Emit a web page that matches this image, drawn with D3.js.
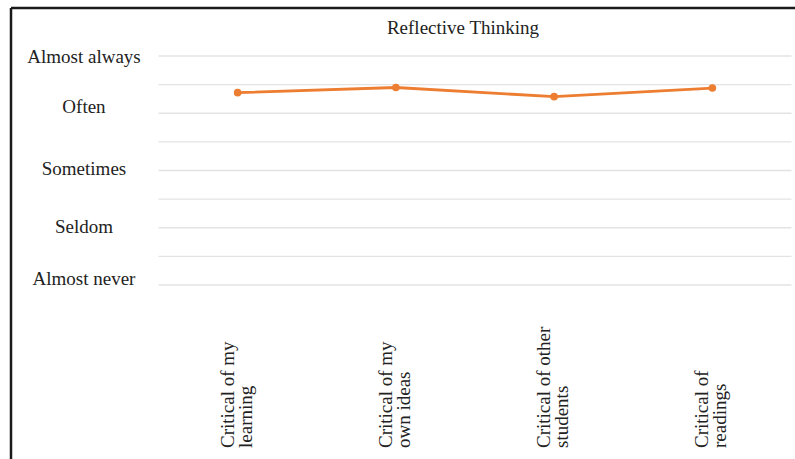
<!DOCTYPE html>
<html>
<head>
<meta charset="utf-8">
<script src="https://cdn.jsdelivr.net/npm/d3@7"></script>
<style>
  body { margin: 0; background: #fff; }
  svg { display: block; }
</style>
</head>
<body>
<script>
const width = 795
const height = 459
const line_color = "#ED7D31"
const grid_color = "#e3e3e3"
const font = "'Liberation Serif', 'Times New Roman', serif"

const categories = [
  ["Critical of my", "learning"],
  ["Critical of my", "own ideas"],
  ["Critical of other", "students"],
  ["Critical of", "readings"]
]
const values = [4.36, 4.45, 4.29, 4.44]
const grid_values = [1, 1.5, 2, 2.5, 3, 3.5, 4, 4.5, 5]
const tick_labels = ["Almost always", "Often", "Sometimes", "Seldom", "Almost never"]
const tick_values = [5.0, 4.12, 3.04, 2.03, 1.12]

var svg = d3.select("body").append("svg")
  .attr("width", width)
  .attr("height", height);

// frame (top and left edges visible)
svg.append("line")
  .attr("x1", 11).attr("x2", width).attr("y1", 8).attr("y2", 8)
  .style("stroke", "#1a1a1a").style("stroke-width", 2.5);
svg.append("line")
  .attr("x1", 11).attr("x2", 11).attr("y1", 8).attr("y2", height)
  .style("stroke", "#1a1a1a").style("stroke-width", 2.5);

var x = d3.scaleBand()
  .domain(d3.range(categories.length))
  .range([158.5, 791.5]);

var y = d3.scaleLinear()
  .domain([1, 5])
  .range([285, 56]);

// gridlines
svg.append("g")
  .selectAll("line")
  .data(grid_values)
  .join("line")
  .attr("x1", 158.5).attr("x2", 791.5)
  .attr("y1", d => y(d)).attr("y2", d => y(d))
  .style("stroke", grid_color)
  .style("stroke-width", 1.3);

// title
svg.append("text")
  .attr("x", 463)
  .attr("y", 34)
  .attr("text-anchor", "middle")
  .style("font-family", font)
  .style("font-size", "19px")
  .style("fill", "#222")
  .text("Reflective Thinking");

// y labels
svg.append("g")
  .selectAll("text")
  .data(tick_labels)
  .join("text")
  .attr("x", 84)
  .attr("y", (d, i) => y(tick_values[i]))
  .attr("dy", "0.35em")
  .attr("text-anchor", "middle")
  .style("font-family", font)
  .style("font-size", "19px")
  .style("fill", "#222")
  .text(d => d);

// x labels, rotated
var xl = svg.append("g")
  .selectAll("text")
  .data(categories)
  .join("text")
  .attr("transform", (d, i) => `translate(${x(i) + x.bandwidth() / 2},448) rotate(-90)`)
  .style("font-family", font)
  .style("font-size", "19px")
  .style("fill", "#222");
xl.selectAll("tspan")
  .data(d => d)
  .join("tspan")
  .attr("x", 0)
  .attr("y", (d, j) => j === 0 ? -4 : 14)
  .text(d => d);

// line + markers
var line = d3.line()
  .x((d, i) => x(i) + x.bandwidth() / 2)
  .y(d => y(d));

svg.append("path")
  .datum(values)
  .attr("d", line)
  .style("fill", "none")
  .style("stroke", line_color)
  .style("stroke-width", 2.8)
  .style("stroke-linejoin", "round");

svg.append("g")
  .selectAll("circle")
  .data(values)
  .join("circle")
  .attr("cx", (d, i) => x(i) + x.bandwidth() / 2)
  .attr("cy", d => y(d))
  .attr("r", 3.8)
  .style("fill", line_color);
</script>
</body>
</html>
